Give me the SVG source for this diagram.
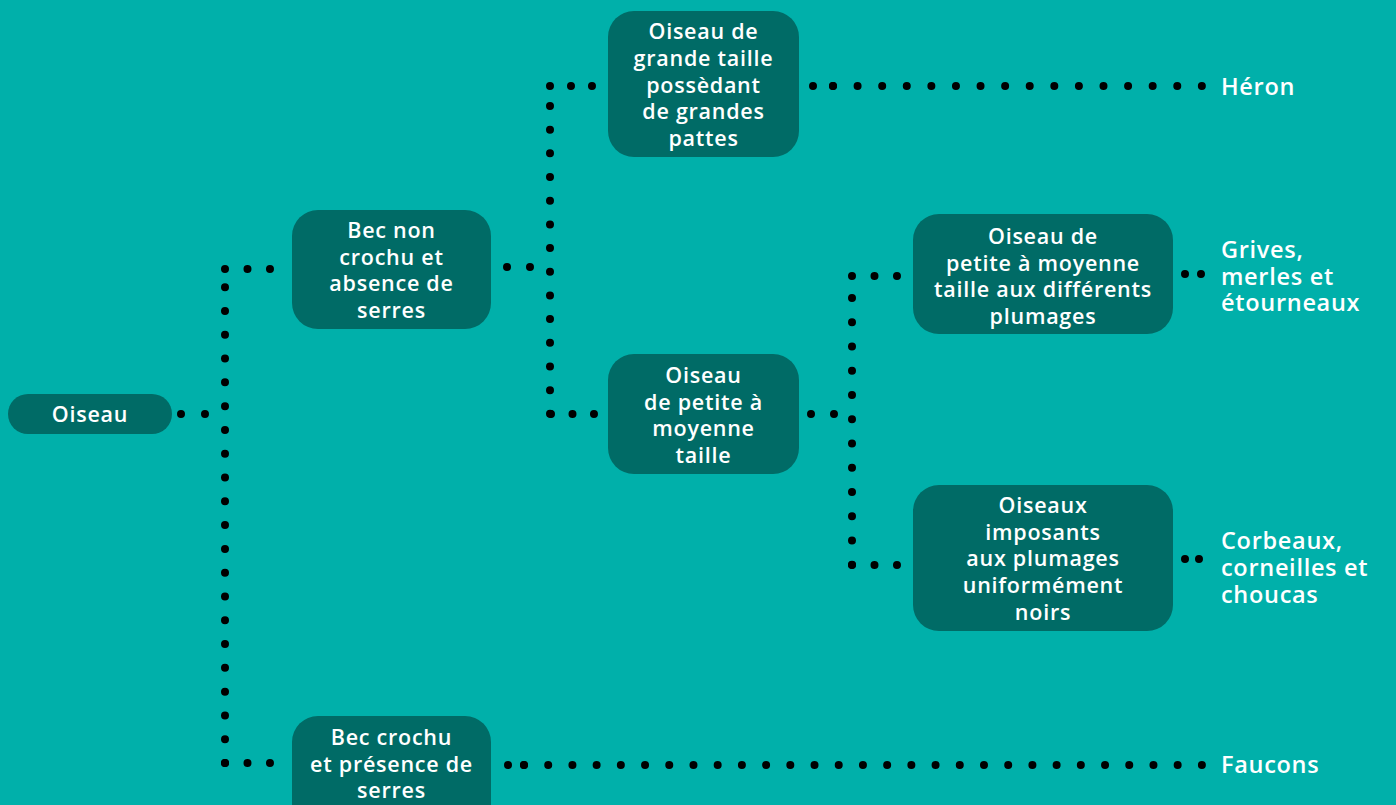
<svg xmlns="http://www.w3.org/2000/svg" width="1396" height="805" viewBox="0 0 1396 805">
<style>
.bg{fill:#00b0aa}
.node rect{fill:#006b66}
.node text{fill:#ffffff;font-family:"Open Sans",Lato,"DejaVu Sans",sans-serif;font-weight:600;font-size:21.5px;letter-spacing:0.75px;text-anchor:middle}
.leaf text{fill:#ffffff;font-family:"Open Sans",Lato,"DejaVu Sans",sans-serif;font-weight:600;font-size:23.5px;letter-spacing:0.7px}
#connectors path{fill:none;stroke:#000000;stroke-width:8;stroke-linecap:round}
</style>
<rect class="bg" x="0" y="0" width="1396" height="805"/>
<g id="connectors">
  <path d="M181 414 H205" stroke-dasharray="0 23.99"/>
  <path d="M225 763 V287" stroke-dasharray="0 23.79"/>
  <path d="M225 269 H270" stroke-dasharray="0 22.49"/>
  <path d="M225 763 H270" stroke-dasharray="0 22.49"/>
  <path d="M507 267 H530" stroke-dasharray="0 22.99"/>
  <path d="M550 106 V414" stroke-dasharray="0 23.68"/>
  <path d="M550 86 H592" stroke-dasharray="0 20.99"/>
  <path d="M551 414 H594" stroke-dasharray="0 21.49"/>
  <path d="M813 86 H833" stroke-dasharray="0 19.99"/>
  <path d="M833 86 H1202" stroke-dasharray="0 24.59"/>
  <path d="M811 414 H834" stroke-dasharray="0 22.99"/>
  <path d="M852 298 V565" stroke-dasharray="0 24.26"/>
  <path d="M852 276 H897" stroke-dasharray="0 22.49"/>
  <path d="M852 565 H897" stroke-dasharray="0 22.49"/>
  <path d="M1185 274 H1201" stroke-dasharray="0 15.99"/>
  <path d="M1185 559 H1199" stroke-dasharray="0 13.99"/>
  <path d="M508 765 H524" stroke-dasharray="0 15.99"/>
  <path d="M524 765 H1202" stroke-dasharray="0 24.21"/>
</g>
<g id="n-oiseau" class="node">
  <rect x="8" y="394" width="164" height="40" rx="20"/>
  <text x="90" y="422">Oiseau</text>
</g>
<g id="n-bec-non-crochu" class="node">
  <rect x="292" y="210" width="199" height="119" rx="26"/>
  <text y="238"><tspan x="391.5">Bec non</tspan><tspan x="391.5" dy="26.7">crochu et</tspan><tspan x="391.5" dy="26.7">absence de</tspan><tspan x="391.5" dy="26.7">serres</tspan></text>
</g>
<g id="n-grande-taille" class="node">
  <rect x="608" y="11" width="191" height="146" rx="26"/>
  <text y="39"><tspan x="703.5">Oiseau de</tspan><tspan x="703.5" dy="26.75">grande taille</tspan><tspan x="703.5" dy="26.75">possèdant</tspan><tspan x="703.5" dy="26.75">de grandes</tspan><tspan x="703.5" dy="26.75">pattes</tspan></text>
</g>
<g id="n-petite-moyenne" class="node">
  <rect x="608" y="354" width="191" height="120" rx="26"/>
  <text y="383"><tspan x="703.5">Oiseau</tspan><tspan x="703.5" dy="26.7">de petite à</tspan><tspan x="703.5" dy="26.7">moyenne</tspan><tspan x="703.5" dy="26.7">taille</tspan></text>
</g>
<g id="n-plumages-differents" class="node">
  <rect x="913" y="214" width="260" height="120" rx="26"/>
  <text y="244"><tspan x="1043">Oiseau de</tspan><tspan x="1043" dy="26.6">petite à moyenne</tspan><tspan x="1043" dy="26.6">taille aux différents</tspan><tspan x="1043" dy="26.6">plumages</tspan></text>
</g>
<g id="n-imposants" class="node">
  <rect x="913" y="485" width="260" height="146" rx="26"/>
  <text y="513"><tspan x="1043">Oiseaux</tspan><tspan x="1043" dy="26.7">imposants</tspan><tspan x="1043" dy="26.7">aux plumages</tspan><tspan x="1043" dy="26.7">uniformément</tspan><tspan x="1043" dy="26.7">noirs</tspan></text>
</g>
<g id="n-bec-crochu" class="node">
  <rect x="292" y="716" width="199" height="120" rx="26"/>
  <text y="745"><tspan x="391.5">Bec crochu</tspan><tspan x="391.5" dy="26.5">et présence de</tspan><tspan x="391.5" dy="26.5">serres</tspan></text>
</g>
<g id="l-heron" class="leaf">
  <text x="1221" y="95">Héron</text>
</g>
<g id="l-grives" class="leaf">
  <text y="258"><tspan x="1221">Grives,</tspan><tspan x="1221" dy="26.7">merles et</tspan><tspan x="1221" dy="26.7">étourneaux</tspan></text>
</g>
<g id="l-corbeaux" class="leaf">
  <text y="549"><tspan x="1221">Corbeaux,</tspan><tspan x="1221" dy="27">corneilles et</tspan><tspan x="1221" dy="27">choucas</tspan></text>
</g>
<g id="l-faucons" class="leaf">
  <text x="1221" y="773">Faucons</text>
</g>
</svg>
